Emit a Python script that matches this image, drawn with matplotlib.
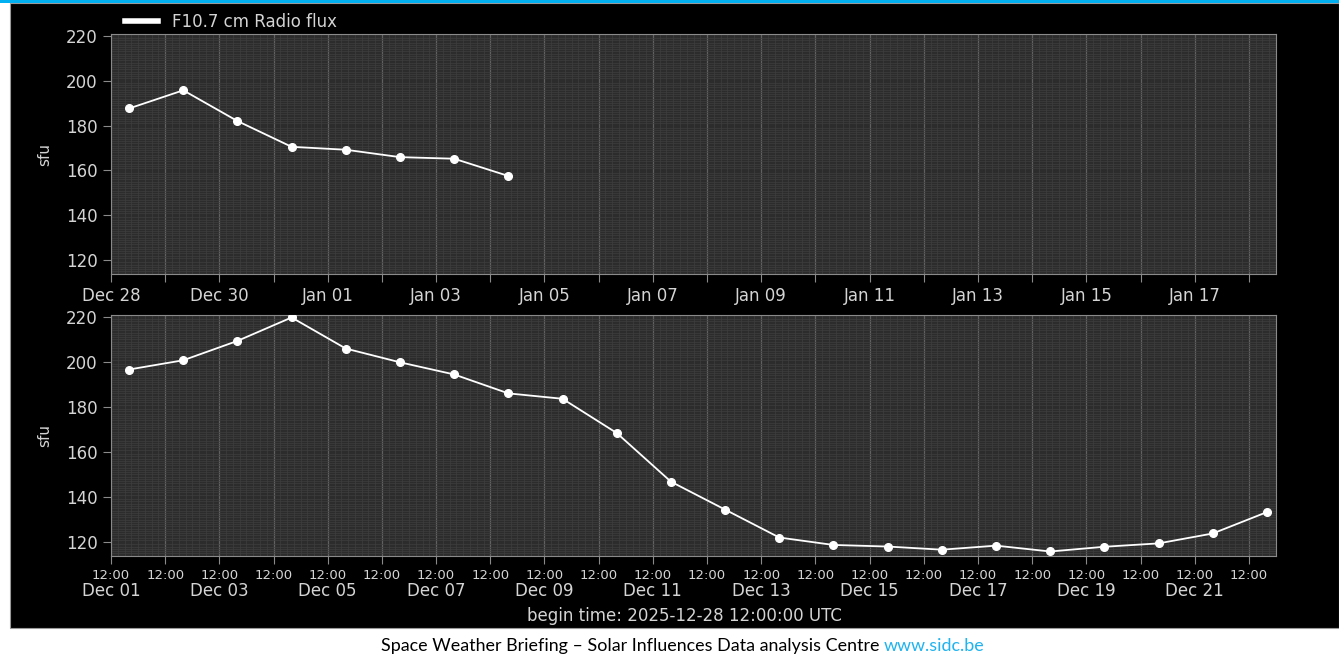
import datetime as dt
import matplotlib
matplotlib.use("Agg")
import matplotlib.pyplot as plt
import matplotlib.dates as mdates
from matplotlib.ticker import MultipleLocator, FixedLocator, FixedFormatter, NullFormatter
from matplotlib.lines import Line2D
from matplotlib.patches import Rectangle

plt.rcParams["font.family"] = ["DejaVu Sans"]

# F10.7 radio flux (sfu), current rotation and previous rotation
flux_current = [187.6, 195.7, 182.0, 170.5, 169.2, 165.9, 165.2, 157.5]
flux_previous = [196.6, 200.7, 209.3, 219.7, 205.9, 199.8, 194.4, 186.0, 183.6,
                 168.4, 146.8, 134.4, 122.0, 118.7, 118.0, 116.6, 118.4, 115.8,
                 117.9, 119.4, 123.8, 133.3]

start_current = dt.datetime(2025, 12, 28, 8, 0)
start_previous = dt.datetime(2025, 12, 1, 20, 0)
times_current = [start_current + dt.timedelta(days=i) for i in range(len(flux_current))]
times_previous = [start_previous + dt.timedelta(days=i) for i in range(len(flux_previous))]

xlim_current = (dt.datetime(2025, 12, 28, 0, 0), dt.datetime(2026, 1, 18, 12, 0))
xlim_previous = (dt.datetime(2025, 12, 1, 12, 0), dt.datetime(2025, 12, 23, 0, 0))
y_range = (113.8, 220.8)
y_ticks = [120, 140, 160, 180, 200, 220]

TXT = "#d4d4d4"
EDGE = "#8a8a8a"
FACE = "#2c2c2c"
FS = 12

fig = plt.figure(figsize=(13.39, 6.56), dpi=100, facecolor="white")

# dark panel and top accent bar
fig.patches.append(Rectangle((10 / 1339, 28 / 656), 1 - 10 / 1339, 625 / 656,
                             transform=fig.transFigure, facecolor="black",
                             edgecolor="#9a9a9a", linewidth=0.8, zorder=-10))
fig.patches.append(Rectangle((0, 653 / 656), 1, 3 / 656, transform=fig.transFigure,
                             facecolor="#00b0f0", edgecolor="none", zorder=-9))

L, R = 111 / 1339, 1276 / 1339
ax1 = fig.add_axes([L, 1 - 274 / 656, R - L, (274 - 34) / 656])
ax2 = fig.add_axes([L, 1 - 556 / 656, R - L, (556 - 315) / 656])


def style(ax):
    ax.set_facecolor(FACE)
    for s in ax.spines.values():
        s.set_color(EDGE)
        s.set_linewidth(0.8)
    ax.set_ylim(*y_range)
    ax.yaxis.set_major_locator(FixedLocator(y_ticks))
    ax.yaxis.set_minor_locator(MultipleLocator(1))
    ax.tick_params(axis="both", which="major", colors=EDGE, labelcolor=TXT,
                   labelsize=FS, length=6, width=0.8)
    ax.tick_params(axis="both", which="minor", length=0)
    ax.grid(True, which="minor", color="#3e3e3e", linewidth=0.5)
    ax.grid(True, which="major", axis="x", color="#606060", linewidth=0.9)
    ax.set_ylabel("sfu", color=TXT, fontsize=11, labelpad=10)
    ax.set_axisbelow(True)


style(ax1)
style(ax2)

# current rotation
ax1.plot(times_current, flux_current, color="white", linewidth=1.3,
         marker="o", markersize=5.5, zorder=3)
ax1.set_xlim(*xlim_current)
days1 = [xlim_current[0] + dt.timedelta(days=i) for i in range(22)]
ax1.xaxis.set_major_locator(FixedLocator(mdates.date2num(days1)))
ax1.xaxis.set_major_formatter(FixedFormatter(
    [d.strftime("%b %d") if i % 2 == 0 else "" for i, d in enumerate(days1)]))
ax1.xaxis.set_minor_locator(FixedLocator(mdates.date2num(
    [xlim_current[0] + dt.timedelta(hours=3 * i) for i in range(173)])))
ax1.xaxis.set_minor_formatter(NullFormatter())

# previous rotation
ax2.plot(times_previous, flux_previous, color="white", linewidth=1.3,
         marker="o", markersize=5.5, zorder=3)
ax2.set_xlim(*xlim_previous)
days2 = [xlim_previous[0] + dt.timedelta(days=i) for i in range(22)]
ax2.xaxis.set_major_locator(FixedLocator(mdates.date2num(days2)))
ax2.xaxis.set_major_formatter(FixedFormatter(["12:00"] * len(days2)))
ax2.xaxis.set_minor_locator(FixedLocator(mdates.date2num(
    [xlim_previous[0] + dt.timedelta(hours=3 * i) for i in range(173)])))
ax2.xaxis.set_minor_formatter(NullFormatter())
ax2.tick_params(axis="x", which="major", labelsize=9.5, pad=3.5)
for i, d in enumerate(days2):
    if i % 2 == 0:
        ax2.annotate(d.strftime("%b %d"), xy=(mdates.date2num(d), 0),
                     xycoords=("data", "axes fraction"), xytext=(0, -31.5),
                     textcoords="offset points", ha="center", va="bottom",
                     color=TXT, fontsize=FS)

# legend above the top panel
fig.legend(handles=[Line2D([], [], color="white", linewidth=4)],
           labels=["F10.7 cm Radio flux"], loc="center left",
           bbox_to_anchor=(125 / 1339, 1 - 22 / 656), frameon=False,
           fontsize=FS, labelcolor=TXT, handlelength=2.0, handletextpad=0.8,
           borderpad=0, borderaxespad=0)

fig.text(684 / 1339, 1 - 616 / 656, "begin time: 2025-12-28 12:00:00 UTC",
         ha="center", va="center", color=TXT, fontsize=FS)

# footer credit line
footer_font = dict(family="Lato", fontsize=12.9, va="center")
t1 = fig.text(0, 1 - 646 / 656,
              "Space Weather Briefing \u2013 Solar Influences Data analysis Centre ",
              color="black", **footer_font)
t2 = fig.text(0, 1 - 646 / 656, "www.sidc.be", color="#1fb3ef", **footer_font)
fig.canvas.draw()
r = fig.canvas.get_renderer()
w1 = t1.get_window_extent(r).width
w2 = t2.get_window_extent(r).width
x0 = 682.5 - (w1 + w2) / 2
t1.set_x(x0 / 1339)
t2.set_x((x0 + w1) / 1339)

fig.savefig("out.png", dpi=100, facecolor="white")
